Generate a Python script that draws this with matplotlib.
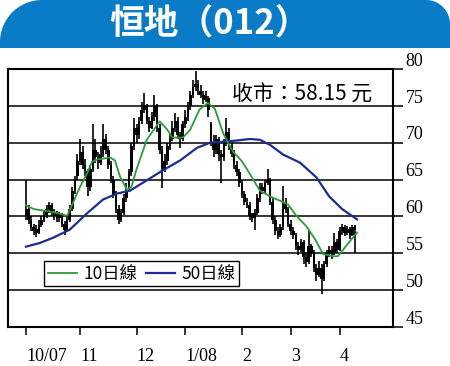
import numpy as np
import matplotlib
matplotlib.use('Agg')
import matplotlib.pyplot as plt
from matplotlib.path import Path
from matplotlib.patches import PathPatch
from matplotlib.transforms import ScaledTranslation

cjk = ['Noto Sans CJK TC', 'DejaVu Sans']
serif = ['Liberation Serif', 'DejaVu Serif']

# 日線數據 (2007-10 ~ 2008-04)
opens = [60.0, 61.0, 59.5, 58.5, 58.2, 57.8, 58.8, 59.5, 60.2, 61.0,
         61.5, 60.5, 60.0, 59.8, 60.2, 59.0, 58.2, 59.5, 61.0, 63.5,
         65.5, 67.5, 68.8, 67.0, 66.2, 64.0, 66.5, 69.0, 68.0, 67.2,
         68.5, 70.5, 69.0, 67.0, 65.0, 63.0, 61.0, 59.5, 60.5, 62.5,
         64.0, 66.0, 69.5, 72.0, 71.0, 73.0, 74.5, 75.0, 73.0, 72.0,
         73.5, 75.0, 72.0, 69.0, 66.5, 67.5, 69.5, 70.5, 72.0, 73.0,
         71.0, 70.5, 72.5, 73.5, 75.0, 76.5, 77.5, 78.0, 77.0, 76.5,
         75.8, 76.0, 72.5, 70.0, 69.0, 70.5, 68.5, 68.0, 70.0, 71.5,
         69.5, 68.5, 67.0, 66.0, 64.5, 63.0, 62.0, 61.5, 60.0, 59.8,
         60.5, 62.5, 64.0, 63.5, 64.5, 65.0, 62.0, 59.5, 58.0, 57.5,
         58.5, 62.0, 61.0, 59.0, 58.0, 57.5, 56.0, 55.5, 56.5, 54.5,
         53.8, 56.0, 55.0, 53.0, 52.0, 53.0, 51.5, 53.5, 55.0, 55.5,
         55.0, 56.5, 55.5, 58.0, 58.5, 57.8, 58.3, 57.5, 58.5]
highs = [65.0, 61.5, 60.0, 59.0, 58.8, 59.5, 60.0, 60.8, 61.5, 62.0,
         61.8, 61.0, 60.8, 60.6, 60.4, 59.4, 60.0, 61.5, 64.0, 65.5,
         68.5, 70.5, 69.5, 67.8, 66.5, 67.0, 72.5, 70.5, 68.8, 69.5,
         72.5, 71.2, 69.5, 67.5, 65.5, 63.5, 61.5, 61.0, 63.0, 64.5,
         66.5, 70.0, 73.3, 72.5, 73.5, 75.5, 76.8, 75.3, 73.5, 74.2,
         76.5, 75.2, 72.5, 69.5, 68.5, 70.0, 71.2, 73.0, 74.0, 73.5,
         71.5, 73.0, 74.5, 75.5, 77.0, 78.5, 79.7, 78.5, 77.8, 77.0,
         77.0, 76.3, 72.8, 71.0, 71.0, 70.8, 69.0, 70.5, 73.3, 72.0,
         70.0, 69.0, 67.5, 66.5, 65.0, 63.5, 62.5, 62.0, 60.5, 61.0,
         63.0, 64.5, 64.5, 65.0, 66.4, 65.2, 62.5, 60.0, 58.5, 59.0,
         64.1, 62.5, 61.3, 59.5, 58.5, 57.8, 56.5, 57.0, 56.8, 55.0,
         58.2, 56.3, 55.5, 53.5, 54.0, 53.5, 54.0, 55.5, 56.0, 56.0,
         57.8, 57.0, 58.5, 59.0, 58.8, 58.7, 58.5, 58.8, 58.8]
lows = [59.5, 59.0, 58.0, 57.5, 57.2, 57.6, 58.5, 59.2, 59.8, 60.5,
        60.0, 59.5, 59.2, 59.3, 58.6, 57.5, 58.0, 59.2, 60.8, 63.0,
        65.0, 67.0, 66.5, 65.5, 62.8, 63.5, 66.0, 67.2, 66.5, 67.0,
        68.0, 68.5, 66.5, 64.5, 62.5, 60.5, 59.0, 59.2, 60.2, 62.0,
        63.5, 65.5, 69.0, 70.0, 70.5, 72.5, 74.0, 72.5, 71.5, 71.8,
        73.0, 71.5, 68.5, 63.9, 66.0, 67.0, 69.0, 70.2, 71.5, 70.5,
        69.3, 70.2, 72.0, 73.0, 74.5, 76.0, 77.0, 76.5, 76.0, 75.2,
        75.5, 73.5, 69.5, 68.0, 68.5, 67.5, 64.5, 67.5, 69.5, 69.0,
        68.0, 66.5, 65.5, 64.0, 62.5, 61.5, 61.2, 59.5, 59.2, 58.2,
        60.2, 62.0, 63.0, 63.2, 64.2, 61.5, 59.0, 57.5, 57.0, 57.2,
        58.2, 60.5, 58.5, 57.5, 57.0, 55.5, 54.8, 55.2, 53.5, 53.2,
        53.5, 54.5, 52.5, 51.3, 51.8, 49.5, 51.2, 53.2, 54.5, 54.2,
        54.8, 55.0, 55.3, 57.5, 57.3, 57.5, 57.0, 57.3, 55.0]
closes = [61.0, 59.5, 58.5, 58.0, 57.8, 58.8, 59.5, 60.2, 61.0, 61.5,
          60.5, 60.0, 59.8, 60.2, 59.0, 58.2, 59.5, 61.0, 63.5, 64.8,
          67.5, 68.8, 67.0, 66.2, 64.0, 66.5, 69.0, 68.0, 67.2, 68.5,
          70.5, 69.0, 67.0, 65.0, 63.0, 61.0, 59.5, 60.5, 62.5, 63.5,
          66.0, 69.5, 72.0, 71.0, 73.0, 74.5, 75.0, 73.0, 72.0, 73.5,
          75.0, 72.0, 69.0, 66.5, 67.5, 69.5, 70.5, 72.0, 73.0, 71.0,
          70.5, 72.5, 73.5, 75.0, 76.5, 77.5, 78.0, 77.0, 76.5, 75.8,
          76.0, 74.5, 70.0, 69.0, 70.5, 68.5, 68.0, 70.0, 71.5, 69.5,
          68.5, 67.0, 66.0, 64.5, 63.0, 62.0, 61.5, 60.0, 59.8, 60.5,
          62.5, 64.0, 63.5, 64.5, 65.0, 62.0, 59.5, 58.0, 57.5, 58.5,
          62.0, 61.0, 59.0, 58.0, 57.5, 56.0, 55.5, 56.5, 54.5, 53.8,
          56.0, 55.0, 53.0, 52.0, 53.0, 51.5, 53.5, 55.0, 55.5, 55.0,
          56.5, 55.5, 58.0, 58.5, 57.8, 58.3, 57.5, 58.5, 58.15]

# 移動平均線 (讀圖取點: 交易日序號, 數值)
ma10_day = [0, 3, 6.6, 10.5, 16, 17, 21, 23.7, 25.7, 27.6, 32.7, 34.6, 36.6,
            39.3, 41, 43, 47, 52, 54.9, 57, 61, 63.8, 67.5, 70.8, 73.5, 76.7,
            80.5, 84, 86, 91, 95, 99, 102, 105.4, 109, 112.5, 115.6, 119.5,
            121.4, 125, 128.8]
ma10_val = [61.5, 61.0, 60.8, 60.6, 60.1, 60.8, 64.0, 65.8, 67.4, 67.7, 68.0,
            67.6, 65.4, 63.6, 64.0, 66.4, 70.4, 72.9, 71.8, 70.7, 70.7, 71.7,
            74.5, 75.4, 74.6, 71.3, 68.8, 67.5, 66.4, 63.5, 62.7, 62.1, 61.6,
            60.0, 58.7, 56.9, 54.9, 54.6, 54.6, 56.2, 57.8]
ma50_day = [0, 5.4, 10.5, 17, 24, 30, 35.4, 40.5, 47, 53, 60, 66.5, 71.6,
            79.4, 87, 91, 95, 100, 106.6, 113, 118, 123, 128.8]
ma50_val = [55.9, 56.4, 57.1, 58.2, 60.5, 62.3, 63.1, 63.5, 64.9, 66.2, 67.6,
            69.3, 70.0, 70.2, 70.5, 70.4, 69.7, 68.4, 67.3, 65.3, 62.7, 61.0,
            59.6]

month_pos = [0, 21, 43, 62, 84, 103, 122]
month_lbl = ['10/07', '11', '12', '1/08', '2', '3', '4']
y_ticks = [45, 50, 55, 60, 65, 70, 75, 80]

fig = plt.figure(figsize=(4.5, 3.66), dpi=100)

# 標題橫額
bax = fig.add_axes([0, 1 - 48 / 366, 1, 48 / 366])
bax.set_xlim(0, 450)
bax.set_ylim(0, 48)
bax.axis('off')
r1, r2 = 42, 24
t1 = np.linspace(np.pi, np.pi / 2, 20)
t2 = np.linspace(np.pi / 2, 0, 20)
verts = [(0, 0)] + [(r1 + r1 * np.cos(t), 48 - r1 + r1 * np.sin(t)) for t in t1] \
        + [(450 - r2 + r2 * np.cos(t), 48 - r2 + r2 * np.sin(t)) for t in t2] \
        + [(450, 0), (0, 0)]
bax.add_patch(PathPatch(Path(verts), facecolor='#0a7bc6', edgecolor='none'))
bax.text(210, 24, '恒地（012）', color='white', fontsize=25, fontweight='heavy',
         family=cjk, ha='center', va='center')

ax = fig.add_axes([8 / 450, 1 - 327 / 366, 385 / 450, 258 / 366])
days = np.arange(len(closes))
o = np.array(opens)
c = np.array(closes)
ax.vlines(days, lows, highs, color='black', lw=1.2, zorder=3)
body_lo = np.minimum(o, c)
body_h = np.maximum(np.abs(c - o), 0.5)
ax.bar(days, body_h, bottom=body_lo, width=1.0, color='black', zorder=3)

ax.plot(ma50_day, ma50_val, color='#1c2d8f', lw=1.6, zorder=4, label='50日線')
ax.plot(ma10_day, ma10_val, color='#2e9a38', lw=1.3, zorder=5, label='10日線')

ax.set_xlim(-7, 142.8)
ax.set_ylim(45, 80)
for y in y_ticks[1:-1]:
    ax.axhline(y, color='black', lw=1.1, zorder=1)

ax.yaxis.tick_right()
ax.set_yticks(y_ticks)
ax.tick_params(axis='y', direction='out', length=7, width=1.1, pad=2,
               labelsize=13)
ax.set_xticks(month_pos)
ax.set_xticklabels(month_lbl)
ax.tick_params(axis='x', direction='out', length=6, width=1.1, pad=9,
               labelsize=13)
for lab in ax.get_yticklabels():
    lab.set_family(serif)
    lab.set_transform(lab.get_transform() + ScaledTranslation(0, 7 / 72, fig.dpi_scale_trans))
for lab in ax.get_xticklabels():
    lab.set_family(serif)
    lab.set_horizontalalignment('left')
for s in ax.spines.values():
    s.set_linewidth(1.5)

ax.text(0.583, 0.9, '收市：58.15 元', transform=ax.transAxes, fontsize=15,
        family=cjk, va='center', ha='left')

h, l = ax.get_legend_handles_labels()
leg = ax.legend(h[::-1], l[::-1], ncol=2, loc='upper left',
                bbox_to_anchor=(0.094, 0.255), prop={'family': cjk, 'size': 12.5},
                frameon=True, fancybox=False, edgecolor='black', framealpha=1,
                handlelength=1.7, handletextpad=0.35, columnspacing=0.5,
                borderpad=0.2, borderaxespad=0)
leg.get_frame().set_linewidth(1.0)

plt.savefig('out.png', dpi=100)
